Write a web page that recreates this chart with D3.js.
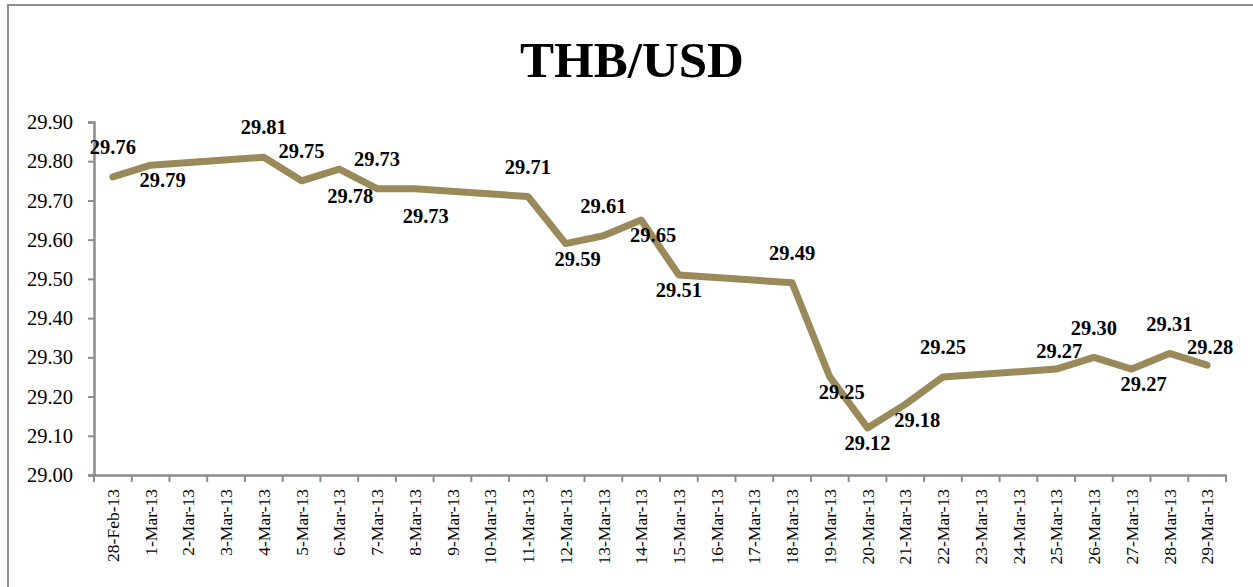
<!DOCTYPE html>
<html>
<head>
<meta charset="utf-8">
<script src="https://cdn.jsdelivr.net/npm/d3@7"></script>
<style>
  body { margin: 0; background: #fff; }
  svg { display: block; }
</style>
</head>
<body>
<div id="chart"></div>
<script>
// THB/USD daily rates, weekends left empty (line is drawn across gaps)
const dates = ["28-Feb-13", "1-Mar-13", "2-Mar-13", "3-Mar-13", "4-Mar-13", "5-Mar-13",
  "6-Mar-13", "7-Mar-13", "8-Mar-13", "9-Mar-13", "10-Mar-13", "11-Mar-13", "12-Mar-13",
  "13-Mar-13", "14-Mar-13", "15-Mar-13", "16-Mar-13", "17-Mar-13", "18-Mar-13", "19-Mar-13",
  "20-Mar-13", "21-Mar-13", "22-Mar-13", "23-Mar-13", "24-Mar-13", "25-Mar-13", "26-Mar-13",
  "27-Mar-13", "28-Mar-13", "29-Mar-13"];

const rates = [29.76, 29.79, null, null, 29.81, 29.75, 29.78, 29.73, 29.73, null, null,
  29.71, 29.59, 29.61, 29.65, 29.51, null, null, 29.49, 29.25, 29.12, 29.18, 29.25,
  null, null, 29.27, 29.30, 29.27, 29.31, 29.28];

// where each data label sits relative to its point
const labelPos = ["T", "BR", "", "", "T", "T", "BB", "T", "BB", "", "", "T", "BR", "T",
  "BR", "B", "", "", "T", "BR", "B", "BR", "T", "", "", "t", "T", "BR", "T", "t"];

const yTicks = [29.0, 29.1, 29.2, 29.3, 29.4, 29.5, 29.6, 29.7, 29.8, 29.9];
const title = "THB/USD";

const width = 1253, height = 587;
const margin = {top: 122, right: 27, bottom: 112, left: 94};
const placements = {T: [0, -30], t: [3, -18], B: [0, 15], BR: [12, 15], BB: [11, 27]};
const serif = "'Liberation Serif', 'Times New Roman', serif";

const svg = d3.select("#chart").append("svg")
  .attr("width", width)
  .attr("height", height);

// outer chart border
svg.append("rect")
  .attr("x", 8).attr("y", 5)
  .attr("width", width + 10).attr("height", height + 10)
  .attr("fill", "none")
  .attr("stroke", "#8c8c8c")
  .attr("stroke-width", 2);

svg.append("text")
  .attr("x", 632).attr("y", 77)
  .attr("text-anchor", "middle")
  .style("font-family", serif)
  .style("font-weight", "bold")
  .style("font-size", "51px")
  .text(title);

const xScale = d3.scaleBand()
  .domain(dates)
  .range([margin.left, width - margin.right]);

const yScale = d3.scaleLinear()
  .domain([29.0, 29.9])
  .range([height - margin.bottom, margin.top]);

const axisColor = "#8c8c8c";
const bottom = height - margin.bottom;

// y axis
const yAxis = d3.axisLeft(yScale)
  .tickValues(yTicks)
  .tickFormat(d3.format(".2f"))
  .tickSize(6)
  .tickPadding(15);

const yg = svg.append("g")
  .attr("transform", "translate(" + margin.left + ",0)")
  .call(yAxis);
yg.attr("font-family", null);
yg.select(".domain").attr("stroke", axisColor).attr("stroke-width", 2.5);
yg.selectAll(".tick line").attr("stroke", axisColor).attr("stroke-width", 2);
yg.selectAll(".tick text")
  .style("font-family", serif)
  .style("font-size", "20.5px")
  .attr("fill", "#000");

// x axis: labels at category centres, tick marks at category edges
const xAxis = d3.axisBottom(xScale).tickSize(0).tickPadding(0);
const xg = svg.append("g")
  .attr("transform", "translate(0," + bottom + ")")
  .call(xAxis);
xg.attr("font-family", null);
xg.select(".domain").attr("stroke", axisColor).attr("stroke-width", 2.5);
xg.selectAll(".tick text")
  .style("font-family", serif)
  .style("font-size", "17.5px")
  .attr("fill", "#000")
  .attr("text-anchor", "end")
  .attr("transform", "rotate(-90)")
  .attr("x", -14)
  .attr("y", 0)
  .attr("dy", "0.35em");

const edges = dates.map(d => xScale(d)).concat([xScale.range()[1]]);
xg.selectAll(".edge")
  .data(edges)
  .enter().append("line")
  .attr("class", "edge")
  .attr("x1", d => d).attr("x2", d => d)
  .attr("y1", 0).attr("y2", 7)
  .attr("stroke", axisColor)
  .attr("stroke-width", 2);

// line series
const points = dates.map((d, i) => ({date: d, value: rates[i], pos: labelPos[i]}))
  .filter(p => p.value !== null);

const cx = d => xScale(d.date) + xScale.bandwidth() / 2;

const line = d3.line()
  .x(cx)
  .y(d => yScale(d.value));

svg.append("path")
  .datum(points)
  .attr("d", line)
  .attr("fill", "none")
  .attr("stroke", "#9a8a5a")
  .attr("stroke-width", 7)
  .attr("stroke-linejoin", "round")
  .attr("stroke-linecap", "round");

// data labels
svg.selectAll(".dlabel")
  .data(points)
  .enter().append("text")
  .attr("class", "dlabel")
  .attr("x", d => cx(d) + placements[d.pos][0])
  .attr("y", d => yScale(d.value) + placements[d.pos][1])
  .attr("dy", "0.35em")
  .attr("text-anchor", "middle")
  .style("font-family", serif)
  .style("font-weight", "bold")
  .style("font-size", "20.5px")
  .text(d => d3.format(".2f")(d.value));
</script>
</body>
</html>
